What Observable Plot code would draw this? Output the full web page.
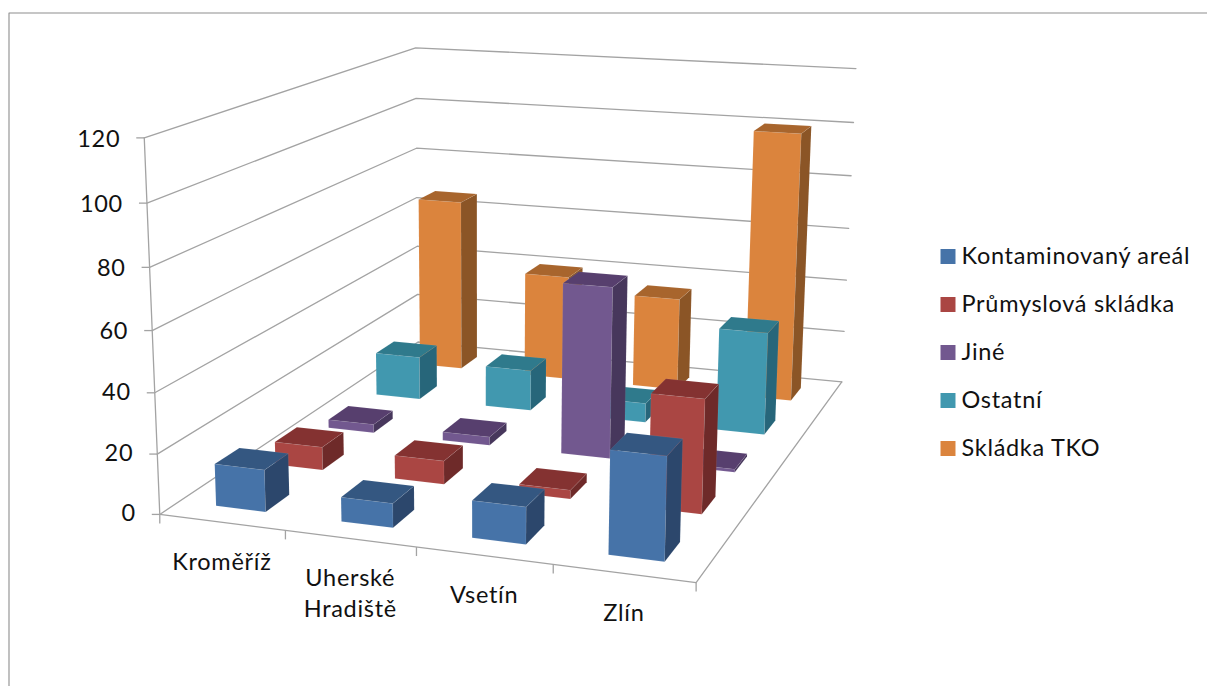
<!DOCTYPE html>
<html lang="cs">
<head>
<meta charset="utf-8">
<title>Typy lokalit podle okresu</title>
<script src="https://cdn.jsdelivr.net/npm/d3@7"></script>
<script src="https://cdn.jsdelivr.net/npm/@observablehq/plot@0.6"></script>
<style>
  html, body { margin: 0; background: #fff; }
  svg { display: block; }
</style>
</head>
<body>
<script>
// Districts along the front edge of the floor
const categories = ["Kroměříž", "Uherské\nHradiště", "Vsetín", "Zlín"];

// Series from the front row to the back row
const seriesNames = ["Kontaminovaný areál", "Průmyslová skládka", "Jiné", "Ostatní", "Skládka TKO"];
const kontaminovanyAreal = [14, 8, 12, 33];
const prumyslovaSkladka = [8, 8, 3, 38];
const jine = [3, 3, 60, 1];
const ostatni = [16, 15, 7, 37];
const skladkaTKO = [66, 40, 35, 100];
const seriesValues = [kontaminovanyAreal, prumyslovaSkladka, jine, ostatni, skladkaTKO];

const valueTicks = [0, 20, 40, 60, 80, 100, 120];

// Face shades per series
const frontColors = ["#4673a8", "#aa4643", "#72588f", "#4198af", "#db843d"];
const topColors = ["#345781", "#843231", "#573f6e", "#2f7a8c", "#a8652d"];
const sideColors = ["#2c476c", "#6e2a29", "#47375c", "#27667a", "#8b5526"];

const FONT = "Lato, 'Open Sans', sans-serif";
const GRID = "#a3a3a3";

// Camera: a perspective transform fitted by least squares to the box corners.
// World axes: u = district (0–4), v = series row (0–5), w = value (0–120).
const cameraFit = [
  [0, 0, 0, 160, 512], [1, 0, 0, 285, 529], [2, 0, 0, 416, 547], [3, 0, 0, 553, 565],
  [4, 0, 0, 696, 583], [4, 5, 0, 841, 380], [0, 5, 0, 417, 345],
  [0, 0, 60, 151, 329], [0, 0, 120, 143, 139],
  [0, 5, 60, 416.5, 195], [0, 5, 120, 416, 47],
  [4, 5, 60, 848, 227], [4, 5, 120, 855.5, 69]
];

function solveLinear(A, b) {
  const n = b.length;
  const M = A.map((row, i) => [...row, b[i]]);
  for (let c = 0; c < n; c++) {
    let p = c;
    for (let r = c + 1; r < n; r++) if (Math.abs(M[r][c]) > Math.abs(M[p][c])) p = r;
    [M[c], M[p]] = [M[p], M[c]];
    for (let r = 0; r < n; r++) {
      if (r === c) continue;
      const f = M[r][c] / M[c][c];
      for (let k = c; k <= n; k++) M[r][k] -= f * M[c][k];
    }
  }
  return M.map((row, i) => row[n] / row[i]);
}

function fitCamera(samples) {
  const rows = [], rhs = [];
  for (const [u, v, w, px, py] of samples) {
    const U = [u, v, w / 30, 1], X = px / 1000, Y = py / 1000;
    rows.push([...U, 0, 0, 0, 0, -X * U[0], -X * U[1], -X * U[2]]); rhs.push(X);
    rows.push([0, 0, 0, 0, ...U, -Y * U[0], -Y * U[1], -Y * U[2]]); rhs.push(Y);
  }
  const n = 11;
  const AtA = d3.range(n).map(i => d3.range(n).map(j => d3.sum(rows, r => r[i] * r[j])));
  const Atb = d3.range(n).map(i => d3.sum(rows, (r, k) => r[i] * rhs[k]));
  return solveLinear(AtA, Atb);
}

const cam = fitCamera(cameraFit);

function project(u, v, w) {
  const W = w / 30;
  const d = cam[8] * u + cam[9] * v + cam[10] * W + 1;
  return [
    1000 * (cam[0] * u + cam[1] * v + cam[2] * W + cam[3]) / d,
    1000 * (cam[4] * u + cam[5] * v + cam[6] * W + cam[7]) / d
  ];
}

// Closed outline rows for one polygon in world coordinates
function polygon(id, corners, color) {
  return [...corners, corners[0]].map(c => {
    const [x, y] = project(...c);
    return {id, x, y, color};
  });
}

// Each bar covers the middle 40% of its cell in both floor directions.
const GAP = 0.3;
const faces = [];
for (let s = seriesNames.length - 1; s >= 0; s--) {
  categories.forEach((_, c) => {
    const h = seriesValues[s][c];
    const u0 = c + GAP, u1 = c + 1 - GAP, v0 = s + GAP, v1 = s + 1 - GAP;
    faces.push(...polygon(`${s}-${c}-front`, [[u0, v0, 0], [u1, v0, 0], [u1, v0, h], [u0, v0, h]], frontColors[s]));
    faces.push(...polygon(`${s}-${c}-side`, [[u1, v0, 0], [u1, v1, 0], [u1, v1, h], [u1, v0, h]], sideColors[s]));
    faces.push(...polygon(`${s}-${c}-top`, [[u0, v0, h], [u1, v0, h], [u1, v1, h], [u0, v1, h]], topColors[s]));
  });
}

// Walls and floor outline
const U = categories.length, V = seriesNames.length;
const gridRows = valueTicks.flatMap(t =>
  [[0, 0, t], [0, V, t], [U, V, t]].map(c => {
    const [x, y] = project(...c);
    return {t, x, y};
  })
);
const floorRows = [[0, 0, 0], [U, 0, 0], [U, V, 0]].map(c => {
  const [x, y] = project(...c);
  return {x, y};
});
const zAxisRows = [0, 120].map(t => {
  const [x, y] = project(0, 0, t);
  return {x, y};
});
const valueTickRows = valueTicks.map(t => {
  const [x, y] = project(0, 0, t);
  return {t, x, y};
});
const categoryTickRows = d3.range(U + 1).map(u => {
  const [x, y] = project(u, 0, 0);
  return {x, y};
});
const categoryRows = categories.map((name, c) => {
  const [x, y] = project(c + 0.5, 0, 0);
  return {name, x, y};
});

const chartFrame = [{x: 8.5, y: 686}, {x: 8.5, y: 12.5}, {x: 1207, y: 12.5}];

const legendRows = seriesNames.map((name, i) => ({name, color: frontColors[i], y: 256 + 48 * i}));

const chart = Plot.plot({
  width: 1207,
  height: 686,
  margin: 0,
  x: {type: "linear", domain: [0, 1207], range: [0, 1207], axis: null},
  y: {type: "linear", domain: [0, 686], range: [0, 686], axis: null},
  color: {type: "identity"},
  style: {background: "#fff", letterSpacing: "0.7px"},
  marks: [
    Plot.line(chartFrame, {x: "x", y: "y", stroke: "#8e8e8e", strokeWidth: 1.1}),
    Plot.line(gridRows, {x: "x", y: "y", z: "t", stroke: GRID, strokeWidth: 1.3}),
    Plot.line(floorRows, {x: "x", y: "y", stroke: GRID, strokeWidth: 1.3}),
    Plot.line(zAxisRows, {x: "x", y: "y", stroke: GRID, strokeWidth: 1.3}),
    Plot.link(valueTickRows, {x1: d => d.x - 8, x2: "x", y1: "y", y2: "y", stroke: GRID, strokeWidth: 1.3}),
    Plot.link(categoryTickRows, {x1: "x", x2: "x", y1: "y", y2: d => d.y + 9, stroke: GRID, strokeWidth: 1.3}),
    Plot.line(faces, {
      x: "x", y: "y", z: "id", fill: "color",
      stroke: "#fff", strokeOpacity: 0.1, strokeWidth: 0.6, curve: "linear"
    }),
    // Value labels sit a little lower on the axis as the value rises
    Plot.text(valueTickRows, {
      x: "x", y: d => d.y - 1 + d.t / 40, text: d => String(d.t), dx: -24,
      textAnchor: "end", fontFamily: FONT, fontSize: 23.5, fill: "#111"
    }),
    Plot.text(categoryRows, {
      x: "x", y: "y", text: "name", dy: 25, lineAnchor: "top", lineHeight: 1.34,
      textAnchor: "middle", fontFamily: FONT, fontSize: 23.5, fill: "#111"
    }),
    Plot.dot(legendRows, {
      x: () => 947.5, y: "y", fill: "color", symbol: "square", r: 8.46, stroke: "none"
    }),
    Plot.text(legendRows, {
      x: () => 961, y: "y", text: "name", textAnchor: "start",
      fontFamily: FONT, fontSize: 23.5, fill: "#111"
    })
  ]
});

document.body.appendChild(chart);
</script>
</body>
</html>
